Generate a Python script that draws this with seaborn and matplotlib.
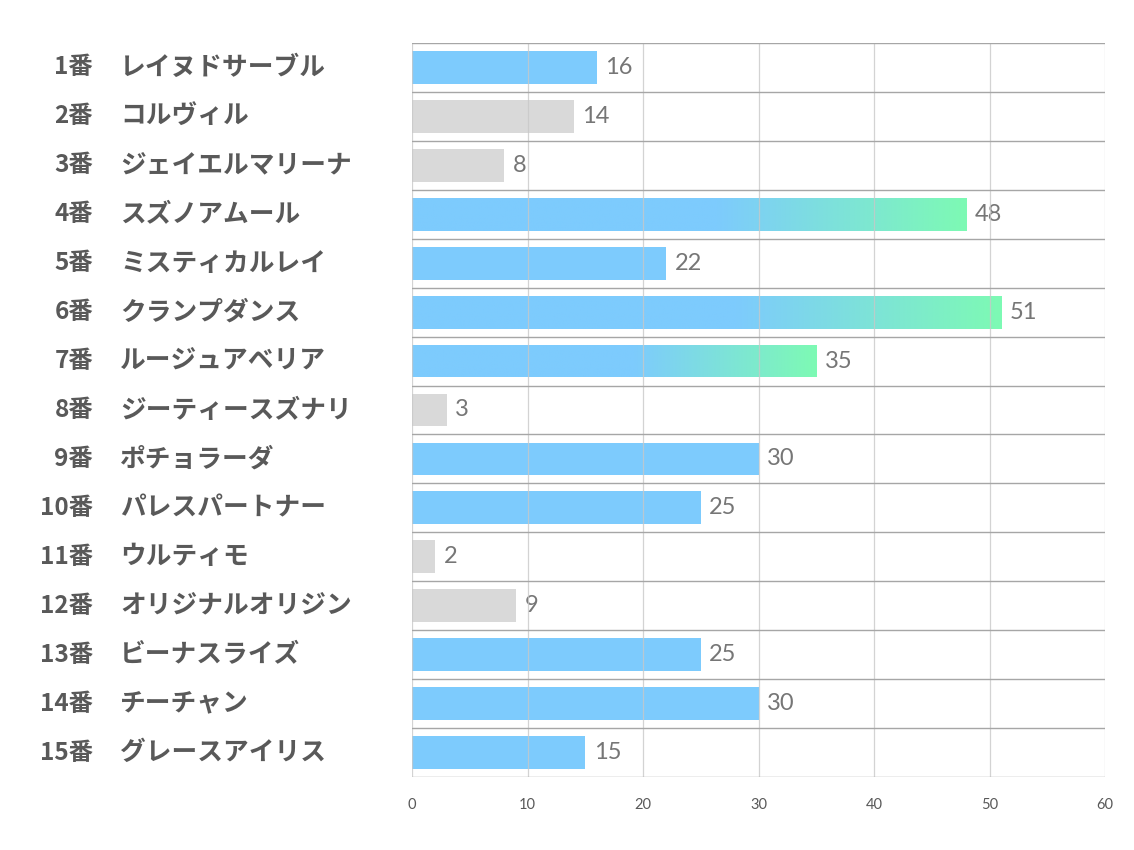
import numpy as np
import matplotlib
matplotlib.use("Agg")
import matplotlib.pyplot as plt
import matplotlib.transforms as mtransforms
from matplotlib.colors import LinearSegmentedColormap
import seaborn as sns

# data
numbers = ["1番", "2番", "3番", "4番", "5番", "6番", "7番", "8番",
           "9番", "10番", "11番", "12番", "13番", "14番", "15番"]
names = ["レイヌドサーブル", "コルヴィル", "ジェイエルマリーナ", "スズノアムール",
         "ミスティカルレイ", "クランプダンス", "ルージュアベリア", "ジーティースズナリ",
         "ポチョラーダ", "パレスパートナー", "ウルティモ", "オリジナルオリジン",
         "ビーナスライズ", "チーチャン", "グレースアイリス"]
values = [16, 14, 8, 48, 22, 51, 35, 3, 30, 25, 2, 9, 25, 30, 15]
kinds = ["blue", "gray", "gray", "grad", "blue", "grad", "grad", "gray",
         "blue", "blue", "gray", "gray", "blue", "blue", "blue"]
xticks = [0, 10, 20, 30, 40, 50, 60]

BLUE = "#7DCBFD"
GREEN = "#7DFAB4"
GRAY = "#D9D9D9"
TEXT = "#595959"

sns.set_style("white")
plt.rcParams["font.family"] = ["Noto Sans CJK JP", "DejaVu Sans"]

fig = plt.figure(figsize=(11.34, 8.5), dpi=100)
ax = fig.add_axes([412 / 1134, 1 - 777 / 850, (1105 - 412) / 1134, (777 - 43) / 850])

sns.barplot(x=values, y=names, orient="h", color=BLUE, width=0.67,
            saturation=1, ax=ax, zorder=2)

cmap = LinearSegmentedColormap.from_list("g", [(0, BLUE), (0.55, BLUE), (1, GREEN)])
for patch, kind, v in zip(ax.patches, kinds, values):
    patch.set_linewidth(0)
    if kind == "gray":
        patch.set_facecolor(GRAY)
    elif kind == "grad":
        y0 = patch.get_y()
        h = patch.get_height()
        grad = np.linspace(0, 1, 256).reshape(1, -1)
        im = ax.imshow(grad, cmap=cmap, aspect="auto", zorder=2.1,
                       extent=(0, v, y0 + h, y0))
        im.set_clip_path(patch)

ax.bar_label(ax.containers[0], labels=[str(v) for v in values], padding=6,
             fontsize=17, color="#767676", family=["Lato", "DejaVu Sans"])

ax.set_xlim(xticks[0], xticks[-1])
ax.set_ylim(len(values) - 0.5, -0.5)
ax.set_xticks(xticks)
ax.set_xticklabels([str(t) for t in xticks], fontsize=10.5, color=TEXT,
                   family=["Lato", "DejaVu Sans"])
ax.tick_params(axis="x", length=0, pad=15)
ax.set_yticks([])
ax.set_ylabel("")

for x in xticks:
    ax.axvline(x, color="#C8C8C8", lw=0.9, alpha=0.8, zorder=3)
for b in np.arange(len(values) + 1) - 0.5:
    ax.axhline(b, color="#A6A6A6", lw=1.0, zorder=3)
for s in ax.spines.values():
    s.set_visible(False)

trans = mtransforms.blended_transform_factory(fig.transFigure, ax.transData)
for i, (num, name) in enumerate(zip(numbers, names)):
    ax.text(93 / 1134, i, num, transform=trans, ha="right", va="center",
            fontsize=17.5, fontweight="bold", color=TEXT)
    ax.text(120 / 1134, i, name, transform=trans, ha="left", va="center",
            fontsize=18.5, fontweight="bold", color=TEXT)

fig.savefig("out.png", dpi=100)
